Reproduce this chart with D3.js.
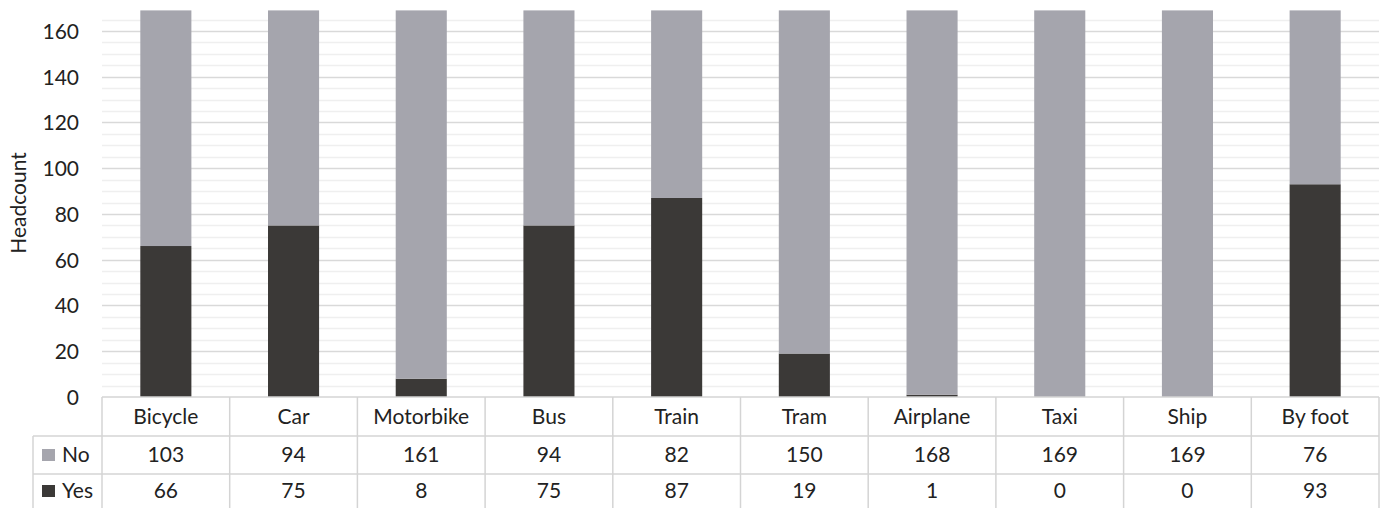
<!DOCTYPE html>
<html>
<head>
<meta charset="utf-8">
<script src="https://cdn.jsdelivr.net/npm/d3@7"></script>
<style>
  body { margin: 0; background: #fff; }
  svg { display: block; font-family: Lato, "Open Sans", sans-serif; }
</style>
</head>
<body>
<svg id="chart" width="1383" height="508"></svg>
<script>
var categories = ["Bicycle", "Car", "Motorbike", "Bus", "Train", "Tram", "Airplane", "Taxi", "Ship", "By foot"];
var noValues = [103, 94, 161, 94, 82, 150, 168, 169, 169, 76];
var yesValues = [66, 75, 8, 75, 87, 19, 1, 0, 0, 93];
var yTicks = [0, 20, 40, 60, 80, 100, 120, 140, 160];
var seriesNames = ["No", "Yes"];

var colors = { No: "#a5a5ad", Yes: "#3b3937" };

var svg = d3.select("#chart"),
	plotLeft = 102, plotRight = 1379, plotTop = 10.4, plotBottom = 397;
var tableLeft = 33, rowH = [39, 38];
var fontSize = 21;

var x = d3.scaleBand().domain(categories).range([plotLeft, plotRight]).paddingInner(0.6).paddingOuter(0.3);
var xCol = d3.scaleBand().domain(categories).range([plotLeft, plotRight]);
var y = d3.scaleLinear().domain([0, 169]).range([plotBottom, plotTop]);

// gridlines, minor every 5, major every 20
var grid = svg.append("g");
grid.selectAll("line.minor")
	.data(d3.range(0, 170, 5).filter(function(v) { return v % 20 != 0; }))
	.enter().append("line")
	.attr("x1", plotLeft).attr("x2", plotRight)
	.attr("y1", function(d) { return Math.round(y(d)) + .5; })
	.attr("y2", function(d) { return Math.round(y(d)) + .5; })
	.attr("stroke", "#efefef").attr("stroke-width", 1.3);
grid.selectAll("line.major")
	.data(yTicks.slice(1))
	.enter().append("line")
	.attr("x1", plotLeft).attr("x2", plotRight)
	.attr("y1", function(d) { return Math.round(y(d)) + .5; })
	.attr("y2", function(d) { return Math.round(y(d)) + .5; })
	.attr("stroke", "#d9d9d9").attr("stroke-width", 1.5);

// stacked bars
var rows = categories.map(function(c, i) { return { cat: c, Yes: yesValues[i], No: noValues[i] }; });
var stack = d3.stack().keys(["Yes", "No"])(rows);

svg.append("g").selectAll("g")
	.data(stack)
	.enter().append("g")
	.attr("fill", function(d) { return colors[d.key]; })
	.selectAll("rect")
	.data(function(d) { return d; })
	.enter().append("rect")
	.attr("x", function(d) { return x(d.data.cat); })
	.attr("width", x.bandwidth())
	.attr("y", function(d) { return y(d[1]); })
	.attr("height", function(d) { return y(d[0]) - y(d[1]); });

// y axis
var yAxis = d3.axisLeft(y).tickValues(yTicks).tickSize(0).tickPadding(0);
var ya = svg.append("g").attr("transform", "translate(" + (plotLeft - 23) + ",0)").call(yAxis);
ya.select(".domain").remove();
ya.selectAll("text").attr("font-size", fontSize).attr("fill", "#222").attr("font-family", "Lato, sans-serif")
	.attr("dy", "0.35em");

svg.append("text")
	.attr("transform", "translate(26," + 203 + ") rotate(-90)")
	.attr("text-anchor", "middle")
	.attr("font-size", 21).attr("fill", "#222")
	.text("Headcount");

// data table
var table = svg.append("g");
var y0 = plotBottom, y1 = y0 + rowH[0], y2 = y1 + rowH[1], y3 = 508;
var lineColor = "#d4d4d4";
function hline(xa, xb, yy) {
	table.append("line").attr("x1", xa).attr("x2", xb).attr("y1", yy).attr("y2", yy)
		.attr("stroke", lineColor).attr("stroke-width", 1.5);
}
function vline(xx, ya_, yb) {
	table.append("line").attr("x1", xx).attr("x2", xx).attr("y1", ya_).attr("y2", yb)
		.attr("stroke", lineColor).attr("stroke-width", 1.5);
}
hline(plotLeft, plotRight, y0);
hline(tableLeft, plotRight, y1);
hline(tableLeft, plotRight, y2);
vline(tableLeft, y1, y3);
categories.forEach(function(c) { vline(xCol(c), y0, y3); });
vline(plotRight, y0, y3);

table.selectAll("text.cat")
	.data(categories).enter().append("text")
	.attr("x", function(d) { return xCol(d) + xCol.bandwidth() / 2; })
	.attr("y", (y0 + y1) / 2)
	.attr("dy", "0.35em")
	.attr("text-anchor", "middle")
	.attr("font-size", fontSize).attr("fill", "#222")
	.text(function(d) { return d; });

var valueRows = [noValues, yesValues];
var rowMid = [(y1 + y2) / 2, (y2 + y3) / 2];
valueRows.forEach(function(vals, r) {
	table.selectAll("text.v" + r)
		.data(vals).enter().append("text")
		.attr("x", function(d, i) { return xCol(categories[i]) + xCol.bandwidth() / 2; })
		.attr("y", rowMid[r])
		.attr("dy", "0.35em")
		.attr("text-anchor", "middle")
		.attr("font-size", fontSize).attr("fill", "#222")
		.text(function(d) { return d; });

	table.append("rect")
		.attr("x", 42).attr("y", rowMid[r] - 6)
		.attr("width", 13).attr("height", 12)
		.attr("fill", colors[seriesNames[r]]);
	table.append("text")
		.attr("x", 62).attr("y", rowMid[r])
		.attr("dy", "0.35em")
		.attr("font-size", fontSize).attr("fill", "#222")
		.text(seriesNames[r]);
});
</script>
</body>
</html>
